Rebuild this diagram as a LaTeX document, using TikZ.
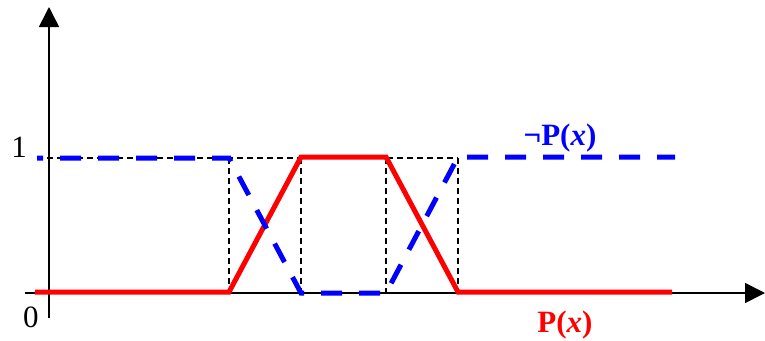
\documentclass[tikz,border=0pt]{standalone}
\usepackage{fontspec}
\setmainfont{Liberation Serif}
\usetikzlibrary{arrows.meta}
\definecolor{myred}{RGB}{255,0,0}
\definecolor{myblue}{RGB}{0,0,255}
\begin{document}
\begin{tikzpicture}[x=1pt,y=-1pt,
  axis/.style={line width=1.6pt,-{Triangle[width=20pt,length=20pt]}},
  guide/.style={black,line width=1.3pt,dash pattern=on 6pt off 4pt},
  pline/.style={myred,line width=5pt},
  nline/.style={myblue,line width=5pt,dash pattern=on 21pt off 17pt,dash phase=15pt},
  lbl/.style={inner sep=0pt,font=\fontsize{31}{31}\selectfont}]
\useasboundingbox (0,0) rectangle (765,340);
% coordinates
\coordinate (yb) at (49,318);
\coordinate (yt) at (49,7);
\coordinate (xl) at (25,293);
\coordinate (xr) at (765,293);
\coordinate (hl) at (37,158);
\coordinate (a0) at (229,293);
\coordinate (a1) at (229,158);
\coordinate (b0) at (301,293);
\coordinate (b1) at (301,158);
\coordinate (c0) at (386,293);
\coordinate (c1) at (386,158);
\coordinate (d0) at (458,293);
\coordinate (d1) at (458,158);
% axes
\draw[axis] (yb) -- (yt);
\draw[axis] (xl) -- (xr);
% guides
\draw[guide] (hl) -- (d1);
\draw[guide] (a1) -- (a0);
\draw[guide] (b1) -- (b0);
\draw[guide] (c1) -- (c0);
\draw[guide] (d1) -- (d0);
% P(x)
\coordinate (pl) at (35,292);
\coordinate (pa) at (229,292);
\coordinate (pb) at (301,157);
\coordinate (pc) at (386,157);
\coordinate (pd) at (458,292);
\coordinate (pr) at (672,292);
\draw[pline] (pl) -- (pa) -- (pb) -- (pc) -- (pd) -- (pr);
% not P(x)
\coordinate (nd) at (458,157);
\coordinate (nr) at (675,157);
\draw[nline] (hl) -- (a1) -- (b0) -- (c0) -- (nd) -- (nr);
% labels
\node[lbl] (one) at (19,147) {1};
\node[lbl] (zero) at (31,317) {0};
\node[lbl,text=myblue] (np) at (560,138) {\textbf{¬P(\textit{x})}};
\node[lbl,text=myred] (p) at (565,325) {\textbf{P(\textit{x})}};
\end{tikzpicture}
\end{document}
